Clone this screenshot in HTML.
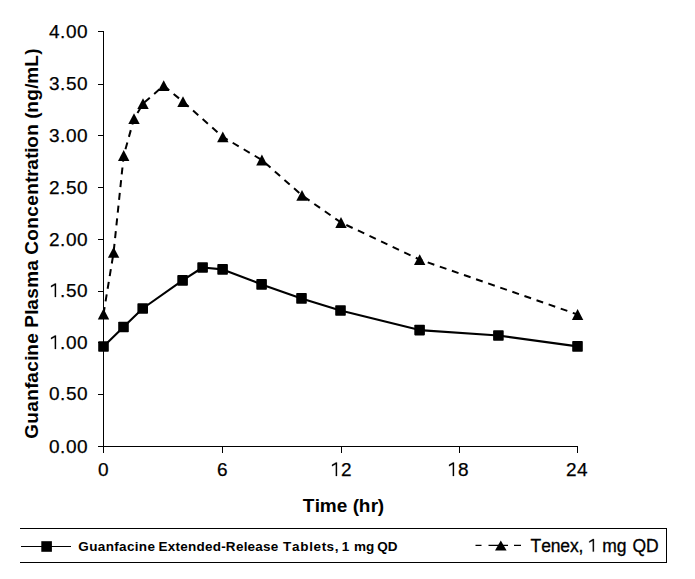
<!DOCTYPE html>
<html><head><meta charset="utf-8">
<style>
html,body{margin:0;padding:0;background:#fff;}
body{width:695px;height:579px;overflow:hidden;position:relative;}
svg{position:absolute;left:0;top:0;}
text{font-family:"Liberation Sans",sans-serif;fill:#000;}
</style></head><body>
<svg width="695" height="579" viewBox="0 0 695 579">
<g shape-rendering="crispEdges" stroke="#000" stroke-width="1" fill="none">
<path d="M103.5 31V447 M98 446.5H578"/>
<path d="M98 31.5H103.5 M98 84.5H103.5 M98 135.5H103.5 M98 187.5H103.5 M98 239.5H103.5 M98 291.5H103.5 M98 342.5H103.5 M98 394.5H103.5"/>
<path d="M103.5 446V453 M222.5 446V453 M341.5 446V453 M459.5 446V453 M577.5 446V453"/>
</g>
<text x="49.00 60.00 66.00 77.00" y="38.00" font-size="19" font-weight="normal" stroke="#000" stroke-width="0.25">4.00</text>
<text x="49.00 60.00 66.00 77.00" y="90.00" font-size="19" font-weight="normal" stroke="#000" stroke-width="0.25">3.50</text>
<text x="49.00 60.00 66.00 77.00" y="142.00" font-size="19" font-weight="normal" stroke="#000" stroke-width="0.25">3.00</text>
<text x="49.00 60.00 66.00 77.00" y="194.00" font-size="19" font-weight="normal" stroke="#000" stroke-width="0.25">2.50</text>
<text x="49.00 60.00 66.00 77.00" y="246.00" font-size="19" font-weight="normal" stroke="#000" stroke-width="0.25">2.00</text>
<path d="M54.80 297.00L56.03 297.00L56.03 283.40L54.98 283.40L50.99 285.79L50.99 287.21L54.80 285.22Z" fill="#000" stroke="#000" stroke-width="0.25"/><text x="60.00 66.00 77.00" y="297.00" font-size="19" font-weight="normal" stroke="#000" stroke-width="0.25">.50</text>
<path d="M54.80 349.00L56.03 349.00L56.03 335.40L54.98 335.40L50.99 337.79L50.99 339.21L54.80 337.22Z" fill="#000" stroke="#000" stroke-width="0.25"/><text x="60.00 66.00 77.00" y="349.00" font-size="19" font-weight="normal" stroke="#000" stroke-width="0.25">.00</text>
<text x="49.00 60.00 66.00 77.00" y="400.00" font-size="19" font-weight="normal" stroke="#000" stroke-width="0.25">0.50</text>
<text x="49.00 60.00 66.00 77.00" y="453.00" font-size="19" font-weight="normal" stroke="#000" stroke-width="0.25">0.00</text>
<text x="98.00" y="476.00" font-size="19" font-weight="normal" stroke="#000" stroke-width="0.25">0</text>
<text x="217.00" y="476.00" font-size="19" font-weight="normal" stroke="#000" stroke-width="0.25">6</text>
<path d="M335.80 476.00L337.03 476.00L337.03 462.40L335.99 462.40L332.00 464.79L332.00 466.21L335.80 464.22Z" fill="#000" stroke="#000" stroke-width="0.25"/><text x="341.00" y="476.00" font-size="19" font-weight="normal" stroke="#000" stroke-width="0.25">2</text>
<path d="M452.80 476.00L454.03 476.00L454.03 462.40L452.99 462.40L449.00 464.79L449.00 466.21L452.80 464.22Z" fill="#000" stroke="#000" stroke-width="0.25"/><text x="458.00" y="476.00" font-size="19" font-weight="normal" stroke="#000" stroke-width="0.25">8</text>
<text x="566.00 577.00" y="476.00" font-size="19" font-weight="normal" stroke="#000" stroke-width="0.25">24</text>
<text x="302.69 314.69 319.69 336.69 347.69 352.69 358.69 370.69 377.69" y="511.90" font-size="19" font-weight="bold">Time (hr)</text>
<g transform="translate(38.3,243.65) rotate(-90)"><text x="-195.08 -180.08 -168.08 -157.08 -145.08 -139.08 -128.08 -117.08 -112.08 -100.08 -89.08 -84.08 -71.08 -66.08 -55.08 -44.08 -27.08 -16.08 -11.08 2.92 14.92 26.92 37.92 48.92 60.92 66.92 73.92 84.92 90.92 95.92 107.92 119.92 124.92 130.92 142.92 154.92 159.92 176.92 188.92" y="0.00" font-size="19" font-weight="bold">Guanfacine Plasma Concentration (ng/mL)</text></g>
<polyline fill="none" stroke="#000" stroke-width="2.1" stroke-linejoin="round" points="103.5,346.5 123.5,327.0 142.7,308.5 182.6,280.4 202.6,267.5 222.6,269.4 261.6,284.4 301.5,298.4 340.5,310.5 419.6,330.1 498.4,335.5 577.5,346.4"/>
<g fill="#000"><rect x="98.20" y="341.20" width="10.6" height="10.6" rx="0.8"/><rect x="118.20" y="321.70" width="10.6" height="10.6" rx="0.8"/><rect x="137.40" y="303.20" width="10.6" height="10.6" rx="0.8"/><rect x="177.30" y="275.10" width="10.6" height="10.6" rx="0.8"/><rect x="197.30" y="262.20" width="10.6" height="10.6" rx="0.8"/><rect x="217.30" y="264.10" width="10.6" height="10.6" rx="0.8"/><rect x="256.30" y="279.10" width="10.6" height="10.6" rx="0.8"/><rect x="296.20" y="293.10" width="10.6" height="10.6" rx="0.8"/><rect x="335.20" y="305.20" width="10.6" height="10.6" rx="0.8"/><rect x="414.30" y="324.80" width="10.6" height="10.6" rx="0.8"/><rect x="493.10" y="330.20" width="10.6" height="10.6" rx="0.8"/><rect x="572.20" y="341.10" width="10.6" height="10.6" rx="0.8"/></g>
<polyline fill="none" stroke="#000" stroke-width="2" stroke-dasharray="7 5.8" stroke-linejoin="round" points="103.5,314.0 113.6,252.4 123.7,155.5 134.0,118.7 143.0,103.7 163.7,85.6 183.0,101.7 222.8,136.9 261.9,160.0 302.0,195.4 341.0,222.5 419.7,259.6 577.6,314.5"/>
<g fill="#000"><path d="M103.50 308.60L109.20 319.40H97.80Z"/><path d="M113.60 247.00L119.30 257.80H107.90Z"/><path d="M123.70 150.10L129.40 160.90H118.00Z"/><path d="M134.00 113.30L139.70 124.10H128.30Z"/><path d="M143.00 98.30L148.70 109.10H137.30Z"/><path d="M163.70 80.20L169.40 91.00H158.00Z"/><path d="M183.00 96.30L188.70 107.10H177.30Z"/><path d="M222.80 131.50L228.50 142.30H217.10Z"/><path d="M261.90 154.60L267.60 165.40H256.20Z"/><path d="M302.00 190.00L307.70 200.80H296.30Z"/><path d="M341.00 217.10L346.70 227.90H335.30Z"/><path d="M419.70 254.20L425.40 265.00H414.00Z"/><path d="M577.60 309.10L583.30 319.90H571.90Z"/></g>
<g shape-rendering="crispEdges" stroke="#000" stroke-width="1" fill="none">
<path d="M20 528.5H666.5V562.5H20"/>
<path d="M21 546.5H71"/>
</g>
<path d="M475.5 545.4H481.5 M488.5 545.4H508 M514 545.4H521" stroke="#000" stroke-width="1.4" fill="none"/>
<rect x="41.3" y="541.2" width="10.6" height="10.6" fill="#000"/>
<path d="M500.8 540.5L506.6 550.6H495Z" fill="#000"/>
<text x="78.15 89.17 97.83 105.71 114.37 119.09 126.97 134.86 138.80 147.45" y="551.40" font-size="13.5" font-weight="bold">Guanfacine</text>
<text x="158.50 167.79 175.54 180.17 187.92 196.43 204.94 212.69 221.20 225.83 235.89 243.64 247.51 255.26 263.01 270.75" y="551.40" font-size="13.5" font-weight="bold">Extended-Release</text>
<text x="283.05 292.09 300.32 309.35 313.47 321.70 326.62 334.85" y="551.40" font-size="13.5" font-weight="bold">Tablets,</text>
<text x="341.66" y="551.40" font-size="13.5" font-weight="bold">1</text>
<text x="353.93 365.94" y="551.40" font-size="13.5" font-weight="bold">mg</text>
<text x="377.18 387.68" y="551.40" font-size="13.5" font-weight="bold">QD</text>
<text x="530.61 541.16 550.76 560.37 569.97 578.61" y="551.60" font-size="17.5" font-weight="normal" stroke="#000" stroke-width="0.3">Tenex,</text>
<path d="M592.78 551.60L593.92 551.60L593.92 539.07L592.96 539.07L589.28 541.27L589.28 542.59L592.78 540.75Z" fill="#000" stroke="#000" stroke-width="0.3"/>
<text x="602.13 616.71" y="551.60" font-size="17.5" font-weight="normal" stroke="#000" stroke-width="0.3">mg</text>
<text x="632.43 646.04" y="551.60" font-size="17.5" font-weight="normal" stroke="#000" stroke-width="0.3">QD</text>
</svg>
</body></html>
